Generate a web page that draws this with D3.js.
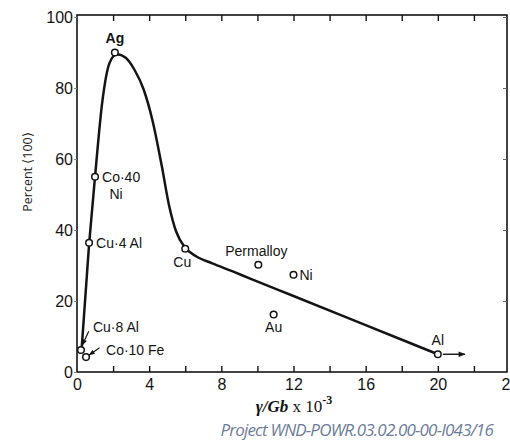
<!DOCTYPE html>
<html>
<head>
<meta charset="utf-8">
<script src="https://cdn.jsdelivr.net/npm/d3@7"></script>
<style>
  body { margin: 0; background: #fff; }
  svg { display: block; }
</style>
</head>
<body>
<div id="chart"></div>
<script>
const WIDTH = 510;
const HEIGHT = 445;

// === DATA ===
const curveX = [0.25, 0.67, 1.0, 1.4, 1.8, 2.2, 2.7, 3.2, 3.7, 4.2, 4.7, 5.1, 5.5, 6.0, 6.6, 7.5, 8.6, 9.6, 12, 16, 20];
const curveY = [6, 36, 55, 76, 87, 89.5, 88.5, 85, 79.5, 70.5, 58, 47, 39.5, 35, 32.6, 30.6, 28.4, 26.3, 21.4, 13.2, 5];

const pointNames = ["Ag", "Co·40 Ni", "Cu·4Al", "Cu·8Al", "Co·10Fe", "Cu", "Permalloy", "Ni", "Au", "Al"];
const pointX = [2.1, 1.0, 0.67, 0.22, 0.5, 6.0, 10.05, 12.0, 10.9, 20];
const pointY = [90, 55, 36.4, 6.2, 4.2, 34.7, 30.2, 27.4, 16.2, 5];

const xTicks = [0, 4, 8, 12, 16, 20, 24];
const yTicks = [0, 20, 40, 60, 80, 100];

const svg = d3.select("#chart")
    .append("svg")
    .attr("width", WIDTH)
    .attr("height", HEIGHT);

const x = d3.scaleLinear().domain([0, 24]).range([77, 510]);
const y = d3.scaleLinear().domain([0, 100]).range([372, 17]);

const ink = "#141414";
const tickFont = "'Liberation Sans', Arial, sans-serif";

// frame
svg.append("rect")
    .attr("x", x(0)).attr("y", 15)
    .attr("width", 430).attr("height", y(0) - 15)
    .attr("fill", "none")
    .attr("stroke", ink)
    .attr("stroke-width", 1.6);

// bottom axis (ticks inward)
const xAxis = svg.append("g")
    .attr("transform", `translate(0,${y(0)})`)
    .call(d3.axisTop(x).tickValues(d3.range(2, 24, 2)).tickSize(6).tickFormat(""));
xAxis.select(".domain").remove();
xAxis.selectAll("line").attr("stroke", ink).attr("stroke-width", 1.4);

const xLabels = svg.append("g")
    .attr("transform", `translate(0,${y(0)})`)
    .call(d3.axisBottom(x).tickValues(xTicks).tickSize(0).tickPadding(7));
xLabels.select(".domain").remove();
xLabels.selectAll("text")
    .attr("fill", ink)
    .style("font-family", tickFont)
    .style("font-size", "16px");

// top axis ticks (inward)
const topAxis = svg.append("g")
    .attr("transform", "translate(0,15)")
    .call(d3.axisBottom(x).tickValues(d3.range(2, 24, 2)).tickSize(6).tickFormat(""));
topAxis.select(".domain").remove();
topAxis.selectAll("line").attr("stroke", ink).attr("stroke-width", 1.4);

// left axis
const yAxis = svg.append("g")
    .attr("transform", `translate(${x(0)},0)`)
    .call(d3.axisLeft(y).tickValues(yTicks).tickSize(3).tickPadding(1));
yAxis.select(".domain").remove();
yAxis.selectAll("line").attr("stroke", "#888").attr("stroke-width", 1);
yAxis.selectAll("text")
    .attr("fill", ink)
    .style("font-family", tickFont)
    .style("font-size", "16px");

// right axis ticks (inward)
const rAxis = svg.append("g")
    .attr("transform", `translate(507,0)`)
    .call(d3.axisLeft(y).tickValues([20, 40, 60, 80, 100]).tickSize(4).tickFormat(""));
rAxis.select(".domain").remove();
rAxis.selectAll("line").attr("stroke", "#666").attr("stroke-width", 1);

// curve
const curvePts = curveX.map((v, i) => [v, curveY[i]]);
const line = d3.line()
    .x(d => x(d[0]))
    .y(d => y(d[1]))
    .curve(d3.curveMonotoneX);

svg.append("path")
    .datum(curvePts)
    .attr("d", line)
    .attr("fill", "none")
    .attr("stroke", ink)
    .attr("stroke-width", 2.5);

// arrow marker
svg.append("defs").append("marker")
    .attr("id", "arr")
    .attr("viewBox", "0 0 10 10")
    .attr("refX", 9).attr("refY", 5)
    .attr("markerWidth", 6).attr("markerHeight", 5)
    .attr("orient", "auto")
    .append("path")
    .attr("d", "M0,1 L10,5 L0,9 z")
    .attr("fill", ink);

// arrow from Al
svg.append("line")
    .attr("x1", x(20) + 5).attr("y1", y(5))
    .attr("x2", x(21.5)).attr("y2", y(5))
    .attr("stroke", ink)
    .attr("stroke-width", 1.4)
    .attr("marker-end", "url(#arr)");

// small arrows for Cu-8Al and Co-10Fe
svg.append("line")
    .attr("x1", x(0.65)).attr("y1", y(11.5))
    .attr("x2", x(0.3)).attr("y2", y(7.6))
    .attr("stroke", ink).attr("stroke-width", 1.2)
    .attr("marker-end", "url(#arr)");
svg.append("line")
    .attr("x1", x(1.25)).attr("y1", y(6.8))
    .attr("x2", x(0.68)).attr("y2", y(4.8))
    .attr("stroke", ink).attr("stroke-width", 1.2)
    .attr("marker-end", "url(#arr)");

// points
svg.selectAll(".pt")
    .data(pointNames)
    .enter()
    .append("circle")
    .attr("class", "pt")
    .attr("cx", (d, i) => x(pointX[i]))
    .attr("cy", (d, i) => y(pointY[i]))
    .attr("r", 3.3)
    .attr("fill", "#fff")
    .attr("stroke", ink)
    .attr("stroke-width", 1.5);

// labels
const labelFont = "'Liberation Sans', Arial, sans-serif";
const labels = [
    { i: 0, dx: 0, dy: -10, a: "middle", t: "Ag", bold: true },
    { i: 1, dx: 7, dy: 5, a: "start", t: "Co·40" },
    { i: 1, dx: 21, dy: 22, a: "middle", t: "Ni" },
    { i: 2, dx: 7, dy: 5, a: "start", t: "Cu·4 Al" },
    { i: 3, dx: 12, dy: -18, a: "start", t: "Cu·8 Al" },
    { i: 4, dx: 20, dy: -2, a: "start", t: "Co·10 Fe" },
    { i: 5, dx: -3, dy: 18, a: "middle", t: "Cu" },
    { i: 6, dx: -2, dy: -9, a: "middle", t: "Permalloy" },
    { i: 7, dx: 6, dy: 5, a: "start", t: "Ni" },
    { i: 8, dx: 0, dy: 18, a: "middle", t: "Au" },
    { i: 9, dx: 0, dy: -9, a: "middle", t: "Al" }
];

svg.selectAll(".lbl")
    .data(labels)
    .enter()
    .append("text")
    .attr("class", "lbl")
    .attr("x", d => x(pointX[d.i]) + d.dx)
    .attr("y", d => y(pointY[d.i]) + d.dy)
    .attr("text-anchor", d => d.a)
    .attr("fill", ink)
    .style("font-family", labelFont)
    .style("font-size", "14px")
    .style("font-weight", d => d.bold ? "bold" : "normal")
    .text(d => d.t);

// y title
svg.append("text")
    .attr("transform", "translate(32,172) rotate(-90)")
    .attr("text-anchor", "middle")
    .attr("fill", "#222")
    .style("font-family", "'Open Sans', sans-serif")
    .style("font-size", "12.5px")
    .text("Percent ⟨100⟩");

// x title
const xt = svg.append("text")
    .attr("x", 294)
    .attr("y", 412)
    .attr("text-anchor", "middle")
    .attr("fill", ink)
    .style("font-family", "'Liberation Serif', serif")
    .style("font-weight", "bold")
    .style("font-size", "17px");
xt.append("tspan").style("font-style", "italic").text("γ/Gb");
xt.append("tspan").style("font-weight", "normal").text(" x 10");
xt.append("tspan").attr("dy", -8).style("font-size", "12px").text("-3");

// footer
svg.append("text")
    .attr("x", 493)
    .attr("y", 436)
    .attr("text-anchor", "end")
    .attr("fill", "#6b7c98")
    .style("font-family", "'Open Sans', sans-serif")
    .style("font-style", "italic")
    .style("font-size", "17px")
    .style("letter-spacing", "-0.8px")
    .text("Project WND-POWR.03.02.00-00-I043/16");
</script>
</body>
</html>
